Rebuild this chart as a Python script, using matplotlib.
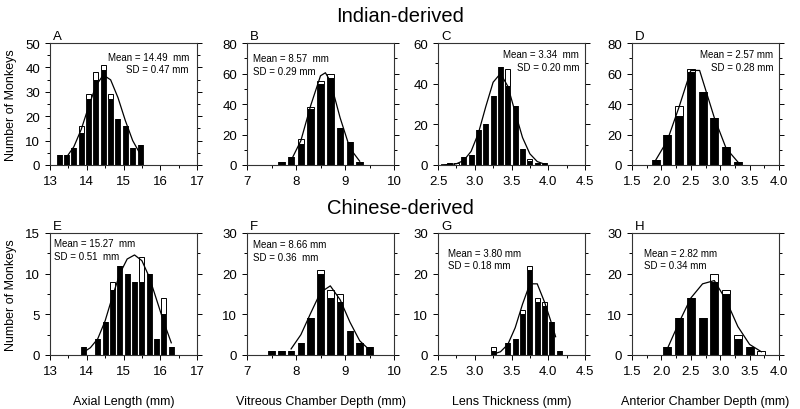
import matplotlib
matplotlib.use("Agg")
import matplotlib.pyplot as plt
from matplotlib.ticker import MultipleLocator, FormatStrFormatter

plt.rcParams['font.family'] = ['Liberation Sans', 'DejaVu Sans']

# Indian-derived (top row)
A_centers = [13.25, 13.45, 13.65, 13.85, 14.05, 14.25, 14.45, 14.65, 14.85, 15.05, 15.25, 15.45]
A_black = [4, 4, 7, 13, 27, 35, 39, 27, 19, 16, 7, 8]
A_white = [0, 0, 0, 3, 2, 3, 2, 2, 0, 0, 0, 0]
A_fit_x = [13.45, 13.65, 13.85, 14.05, 14.25, 14.45, 14.65, 14.85, 15.05, 15.25, 15.45]
A_fit_y = [3.2, 7.5, 14.6, 23.9, 32.5, 36.9, 34.9, 27.6, 18.2, 10.0, 4.6]

B_centers = [7.7, 7.9, 8.1, 8.3, 8.5, 8.7, 8.9, 9.1, 9.3]
B_black = [2, 5, 14, 37, 53, 57, 24, 15, 2]
B_white = [0, 0, 3, 1, 2, 3, 0, 0, 0]
B_fit_x = [7.9, 8.1, 8.3, 8.5, 8.6, 8.7, 8.9, 9.1, 9.3]
B_fit_y = [3, 16, 39, 58.5, 60.5, 55, 31, 11, 2.5]

C_centers = [2.65, 2.75, 2.85, 2.95, 3.05, 3.15, 3.25, 3.35, 3.45, 3.55, 3.65, 3.75, 3.85, 3.95]
C_black = [1, 0, 4, 5, 17, 20, 34, 48, 39, 29, 8, 2, 1, 1]
C_white = [0, 1, 0, 0, 0, 0, 0, 0, 8, 0, 0, 1, 0, 0]
C_fit_x = [2.55, 2.65, 2.75, 2.85, 2.95, 3.05, 3.15, 3.25, 3.35, 3.45, 3.55, 3.65, 3.75, 3.85, 3.95]
C_fit_y = [0.1, 0.2, 0.6, 2.2, 6.7, 15.7, 28.7, 40.7, 45, 38.7, 25.9, 13.5, 5.5, 1.7, 0.4]

D_centers = [1.9, 2.1, 2.3, 2.5, 2.7, 2.9, 3.1, 3.3]
D_black = [3, 20, 32, 61, 48, 31, 12, 2]
D_white = [0, 0, 7, 2, 0, 0, 0, 0]
D_fit_x = [1.9, 2.1, 2.3, 2.5, 2.65, 2.9, 3.1, 3.3]
D_fit_y = [3, 16, 38, 62, 62, 31, 11, 2]

# Chinese-derived (bottom row)
E_centers = [13.9, 14.3, 14.5, 14.7, 14.9, 15.1, 15.3, 15.5, 15.7, 15.9, 16.1, 16.3]
E_black = [1, 2, 4, 8, 11, 10, 9, 9, 10, 2, 5, 1]
E_white = [0, 0, 0, 1, 0, 0, 0, 3, 0, 0, 2, 0]
E_fit_x = [13.9, 14.1, 14.3, 14.5, 14.7, 14.9, 15.1, 15.3, 15.5, 15.7, 15.9, 16.1, 16.3]
E_fit_y = [0.3, 0.9, 2.0, 4.2, 7.2, 10.0, 11.8, 12.3, 11.6, 9.6, 6.8, 4.0, 1.5]

F_centers = [7.5, 7.7, 7.9, 8.1, 8.3, 8.5, 8.7, 8.9, 9.1, 9.3, 9.5]
F_black = [1, 1, 1, 3, 9, 20, 14, 13, 6, 3, 2]
F_white = [0, 0, 0, 0, 0, 1, 2, 2, 0, 0, 0]
F_fit_x = [7.9, 8.1, 8.3, 8.5, 8.7, 8.9, 9.1, 9.3, 9.45]
F_fit_y = [1.5, 5, 10.3, 15.4, 17, 13.6, 8.1, 3.5, 1.8]

G_centers = [3.25, 3.45, 3.55, 3.65, 3.75, 3.85, 3.95, 4.05, 4.15]
G_black = [1, 3, 4, 10, 21, 13, 12, 8, 1]
G_white = [1, 0, 0, 1, 1, 1, 1, 0, 0]
G_fit_x = [3.25, 3.35, 3.45, 3.55, 3.65, 3.75, 3.85, 3.95, 4.05, 4.1]
G_fit_y = [0.2, 0.8, 2.6, 6.7, 12.5, 17.5, 17.5, 13, 7.5, 4.5]

H_centers = [2.1, 2.3, 2.5, 2.7, 2.9, 3.1, 3.3, 3.5, 3.7]
H_black = [2, 9, 14, 9, 18, 15, 4, 2, 0]
H_white = [0, 0, 0, 0, 2, 1, 1, 0, 1]
H_fit_x = [2.1, 2.3, 2.5, 2.7, 2.9, 3.1, 3.3, 3.5, 3.7]
H_fit_y = [1.5, 8, 14, 17.5, 18.3, 13.5, 7, 2.6, 0.8]

mean_text = ['Mean = 14.49  mm\nSD = 0.47 mm', 'Mean = 8.57  mm\nSD = 0.29 mm',
             'Mean = 3.34  mm\nSD = 0.20 mm', 'Mean = 2.57 mm\nSD = 0.28 mm',
             'Mean = 15.27  mm\nSD = 0.51  mm', 'Mean = 8.66 mm\nSD = 0.36  mm',
             'Mean = 3.80 mm\nSD = 0.18 mm', 'Mean = 2.82 mm\nSD = 0.34 mm']
x_labels = ['Axial Length (mm)', 'Vitreous Chamber Depth (mm)',
            'Lens Thickness (mm)', 'Anterior Chamber Depth (mm)']

panels = [
    ('A', A_centers, A_black, A_white, A_fit_x, A_fit_y, 0.2, (13, 17), 1, 0.5, 50, 10, 5),
    ('B', B_centers, B_black, B_white, B_fit_x, B_fit_y, 0.2, (7, 10), 1, 0.5, 80, 20, 10),
    ('C', C_centers, C_black, C_white, C_fit_x, C_fit_y, 0.1, (2.5, 4.5), 0.5, 0.25, 60, 20, 10),
    ('D', D_centers, D_black, D_white, D_fit_x, D_fit_y, 0.2, (1.5, 4.0), 0.5, 0.25, 80, 20, 10),
    ('E', E_centers, E_black, E_white, E_fit_x, E_fit_y, 0.2, (13, 17), 1, 0.5, 15, 5, 2.5),
    ('F', F_centers, F_black, F_white, F_fit_x, F_fit_y, 0.2, (7, 10), 1, 0.5, 30, 10, 5),
    ('G', G_centers, G_black, G_white, G_fit_x, G_fit_y, 0.1, (2.5, 4.5), 0.5, 0.25, 30, 10, 5),
    ('H', H_centers, H_black, H_white, H_fit_x, H_fit_y, 0.2, (1.5, 4.0), 0.5, 0.25, 30, 10, 5),
]

# mean/sd text placement: (x, y, ha) in axes coords
text_pos = [(0.945, 0.93, 'right'), (0.04, 0.92, 'left'), (0.96, 0.95, 'right'), (0.96, 0.95, 'right'),
            (0.03, 0.96, 'left'), (0.04, 0.95, 'left'), (0.07, 0.88, 'left'), (0.08, 0.88, 'left')]

lefts = [50, 247, 438, 632]
fig = plt.figure(figsize=(8, 4.1), dpi=100)

for i, p in enumerate(panels):
    letter, cx, blk, wht, fx, fy, binw, xlim, xmaj, xmin, ytop, ymaj, ymin = p
    row = i // 4
    col = i % 4
    if row == 0:
        bottom = 1 - 166 / 410.
    else:
        bottom = 1 - 356 / 410.
    ax = fig.add_axes([lefts[col] / 800., bottom, 147 / 800., 122 / 410.])

    w = binw * 0.68
    ax.bar(cx, blk, width=w, color='black', edgecolor='black', linewidth=0.6, zorder=2)
    ax.bar(cx, wht, width=w, bottom=blk, color='white', edgecolor='black', linewidth=0.7, zorder=2)
    ax.plot(fx, fy, color='black', linewidth=0.9, zorder=3)

    ax.set_xlim(xlim)
    ax.set_ylim(0, ytop)
    ax.xaxis.set_major_locator(MultipleLocator(xmaj))
    ax.xaxis.set_minor_locator(MultipleLocator(xmin))
    ax.yaxis.set_major_locator(MultipleLocator(ymaj))
    ax.yaxis.set_minor_locator(MultipleLocator(ymin))
    if xmaj == 0.5:
        ax.xaxis.set_major_formatter(FormatStrFormatter('%.1f'))
    ax.tick_params(axis='both', which='major', labelsize=9.5, length=3.5, width=0.7, direction='out')
    ax.tick_params(axis='both', which='minor', length=2.5, width=0.7, direction='out')
    ax.tick_params(axis='y', which='both', right=True, labelright=False)
    for s in ax.spines.values():
        s.set_linewidth(0.8)
        s.set_color('#333333')

    ax.text(0.02, 1.01, letter, transform=ax.transAxes, fontsize=9.5, va='bottom', ha='left')
    tx, ty, ha = text_pos[i]
    ax.text(tx, ty, mean_text[i], transform=ax.transAxes, fontsize=7, va='top', ha=ha,
            linespacing=1.35)

    if col == 0:
        ax.set_ylabel('Number of Monkeys', fontsize=9, labelpad=6)
    if row == 1:
        ax.set_xlabel(x_labels[col], fontsize=9, labelpad=13)

fig.text(0.5, 1 - 17 / 410., 'Indian-derived', ha='center', va='center', fontsize=14.5)
fig.text(0.5, 1 - 209 / 410., 'Chinese-derived', ha='center', va='center', fontsize=14.5)

plt.savefig('out.png', dpi=100)
